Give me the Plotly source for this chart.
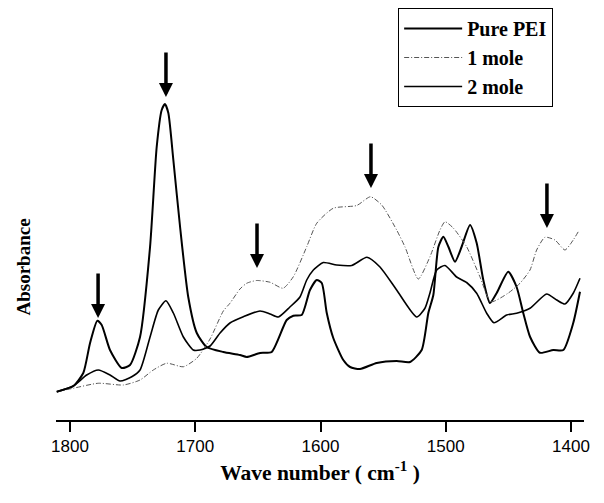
import plotly.graph_objects as go

# ---- data (wave number in cm^-1, absorbance in arbitrary units) ----
pei_wn = [1810.6, 1797.4, 1789.4, 1784.0, 1778.2, 1774.7, 1768.1, 1758.7, 1752.1, 1744.1,
          1736.1, 1730.8, 1726.8, 1724.2, 1721.5, 1717.5, 1712.2, 1705.6, 1698.8, 1690.9,
          1677.6, 1664.3, 1658.9, 1648.3, 1639.0, 1627.0, 1621.7, 1615.0, 1608.4, 1603.0,
          1599.0, 1595.0, 1589.8, 1581.8, 1576.4, 1568.5, 1555.1, 1539.2, 1528.5, 1519.2,
          1513.9, 1509.9, 1505.9, 1501.9, 1497.9, 1492.6, 1487.3, 1480.6, 1475.3, 1470.0,
          1464.7, 1459.3, 1450.1, 1443.4, 1438.1, 1432.7, 1424.8, 1414.1, 1406.1, 1398.2,
          1392.8]
pei_abs = [0.113, 0.136, 0.188, 0.308, 0.397, 0.380, 0.280, 0.208, 0.220, 0.332,
           0.692, 1.092, 1.240, 1.264, 1.228, 1.040, 0.776, 0.492, 0.348, 0.292,
           0.272, 0.260, 0.252, 0.268, 0.272, 0.400, 0.417, 0.420, 0.520, 0.560,
           0.548, 0.428, 0.328, 0.240, 0.212, 0.204, 0.228, 0.236, 0.232, 0.280,
           0.428, 0.500, 0.692, 0.733, 0.693, 0.633, 0.693, 0.780, 0.708, 0.560,
           0.468, 0.508, 0.593, 0.532, 0.428, 0.333, 0.269, 0.280, 0.280, 0.388,
           0.513]

mole1_wn = [1810.6, 1797.4, 1777.4, 1757.4, 1744.1, 1733.5, 1722.8, 1709.5, 1698.8, 1688.2,
            1677.6, 1672.3, 1664.3, 1658.9, 1651.0, 1640.3, 1629.9, 1621.7, 1611.0, 1603.0,
            1589.8, 1571.1, 1560.1, 1551.1, 1539.2, 1532.5, 1521.9, 1512.6, 1504.6, 1500.6,
            1494.0, 1483.3, 1472.7, 1463.9, 1450.3, 1440.7, 1432.7, 1427.4, 1420.8, 1412.8,
            1404.8, 1398.2, 1394.2]
mole1_abs = [0.113, 0.127, 0.147, 0.140, 0.160, 0.200, 0.227, 0.213, 0.247, 0.324,
             0.436, 0.467, 0.524, 0.547, 0.558, 0.551, 0.527, 0.573, 0.693, 0.787,
             0.847, 0.858, 0.893, 0.860, 0.760, 0.692, 0.564, 0.653, 0.760, 0.793,
             0.768, 0.693, 0.573, 0.473, 0.507, 0.547, 0.600, 0.680, 0.731, 0.720,
             0.680, 0.720, 0.753]

mole2_wn = [1810.6, 1797.4, 1786.7, 1777.4, 1768.1, 1760.1, 1750.7, 1744.1, 1736.1, 1729.5,
            1723.4, 1717.5, 1709.5, 1701.6, 1696.2, 1688.2, 1680.2, 1672.3, 1661.6, 1648.3,
            1640.3, 1633.7, 1624.4, 1616.4, 1611.0, 1605.7, 1597.8, 1587.1, 1575.1, 1562.9,
            1552.5, 1539.2, 1523.2, 1516.6, 1512.6, 1507.2, 1500.6, 1491.3, 1483.3, 1475.3,
            1467.3, 1461.5, 1451.3, 1443.4, 1432.7, 1419.4, 1411.4, 1404.8, 1398.2, 1392.8]
mole2_abs = [0.113, 0.136, 0.180, 0.200, 0.180, 0.156, 0.173, 0.200, 0.332, 0.440,
             0.477, 0.428, 0.332, 0.280, 0.280, 0.296, 0.348, 0.388, 0.413, 0.436,
             0.424, 0.412, 0.452, 0.492, 0.560, 0.600, 0.630, 0.620, 0.618, 0.651,
             0.612, 0.520, 0.412, 0.447, 0.508, 0.600, 0.618, 0.572, 0.550, 0.507,
             0.427, 0.389, 0.420, 0.427, 0.447, 0.504, 0.480, 0.464, 0.507, 0.567]

# arrows marking bands (tip position)
arrow_wn = [1777.6, 1723.4, 1650.7, 1559.7, 1419.2]
arrow_abs = [0.408, 1.292, 0.608, 0.928, 0.768]

tick_vals = [1800, 1700, 1600, 1500, 1400]
tick_text = ["1800", "1700", "1600", "1500", "1400"]

SERIF = "Liberation Serif"

fig = go.Figure()
fig.add_trace(go.Scatter(x=pei_wn, y=pei_abs, mode="lines", name="<b>Pure PEI</b>",
                         line=dict(color="black", width=2, shape="spline", smoothing=0.6)))
fig.add_trace(go.Scatter(x=mole1_wn, y=mole1_abs, mode="lines", name="<b>1 mole</b>",
                         line=dict(color="#555555", width=1, dash="5px,2px,1px,2px",
                                   shape="spline", smoothing=0.6)))
fig.add_trace(go.Scatter(x=mole2_wn, y=mole2_abs, mode="lines", name="<b>2 mole</b>",
                         line=dict(color="black", width=1.6, shape="spline", smoothing=0.6)))

for xw, ya in zip(arrow_wn, arrow_abs):
    fig.add_annotation(x=xw, y=ya, xref="x", yref="y", text="", showarrow=True,
                       ax=0, ay=-46, arrowhead=2, arrowsize=0.8, arrowwidth=3.5,
                       arrowcolor="black", standoff=0)

fig.add_annotation(text="<b>Absorbance</b>", xref="paper", yref="paper",
                   x=-0.061, y=0.372, textangle=-90, showarrow=False,
                   xanchor="center", yanchor="middle",
                   font=dict(family=SERIF, size=19, color="black"))

fig.update_layout(
    width=604, height=503,
    margin=dict(l=56, r=20, t=8, b=83),
    paper_bgcolor="white", plot_bgcolor="white",
    showlegend=True,
    legend=dict(x=0.648, y=1.0, xanchor="left", yanchor="top",
                bgcolor="white", bordercolor="black", borderwidth=1,
                font=dict(family=SERIF, size=20, color="black"),
                tracegroupgap=0, itemwidth=58),
    xaxis=dict(range=[1811.2, 1389.6], tickvals=tick_vals, ticktext=tick_text,
               showgrid=False, zeroline=False, showline=True, linecolor="black",
               linewidth=1.5, ticks="outside", ticklen=10, tickwidth=1.5,
               tickcolor="black",
               tickfont=dict(family="Liberation Sans", size=17, color="black"),
               title=dict(text="<b>Wave number ( cm<sup>-1</sup> )</b>",
                          font=dict(family=SERIF, size=21.5, color="black"),
                          standoff=10)),
    yaxis=dict(range=[0, 1.648], showgrid=False, zeroline=False, showline=False,
               showticklabels=False, ticks=""),
)

fig.write_html("out.html")
